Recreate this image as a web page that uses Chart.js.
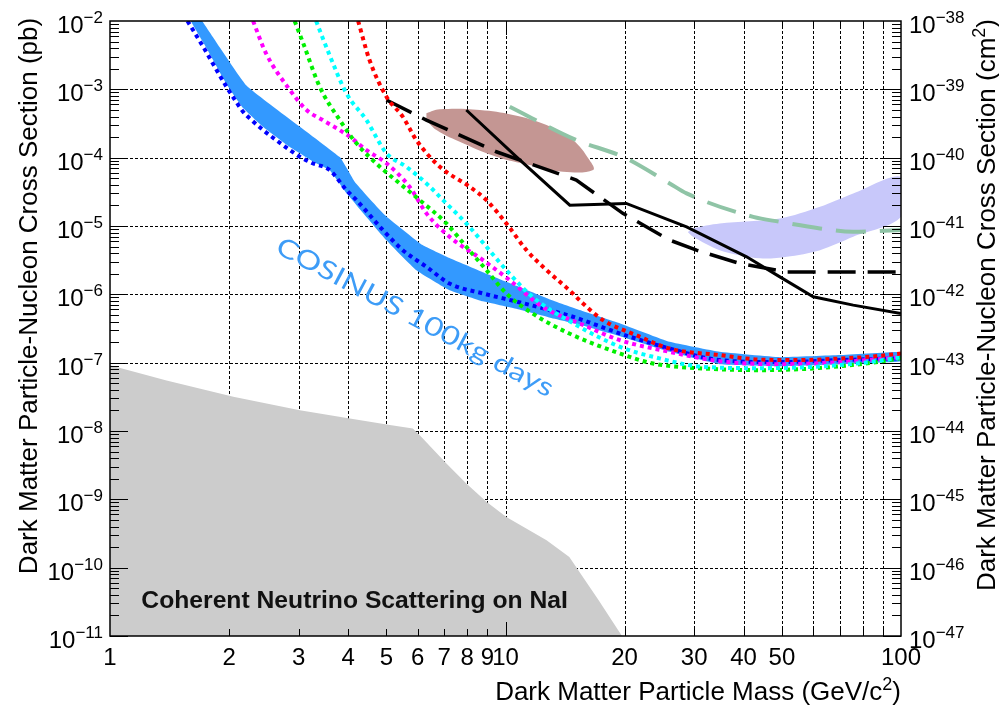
<!DOCTYPE html>
<html>
<head>
<meta charset="utf-8">
<script src="https://cdn.jsdelivr.net/npm/chart.js@4.4.0/dist/chart.umd.min.js"></script>
<style>
  html, body { margin: 0; padding: 0; background: #fff; }
  #wrap { width: 999px; height: 714px; position: relative; }
</style>
</head>
<body>
<div id="wrap"><canvas id="limits"></canvas></div>
<script>
// WIMP mass in GeV/c^2, cross section in pb

// axis ticks
const massTicks = [1, 2, 3, 4, 5, 6, 7, 8, 9, 10, 20, 30, 40, 50, 60, 70, 80, 90, 100];
const massTickLabels = ['1', '2', '3', '4', '5', '6', '7', '8', '9', '10', '20', '30', '40', '50', '', '', '', '', '100'];
const pbExponents = [-11, -10, -9, -8, -7, -6, -5, -4, -3, -2];
const cm2Offset = -36; // 1 pb = 1e-36 cm^2

// COSINUS 100 kg day band (upper edge left->right, then lower edge right->left)
const bandMass = [1.71, 2.22, 3.81, 4.16, 4.95, 6.17, 7.22, 8.76, 10.7, 12.9, 15.4, 19.5, 26.0, 34.8, 49.4, 70.0, 100,
  100, 70.0, 49.4, 34.8, 26.0, 19.5, 15.4, 12.9, 10.7, 8.77, 7.22, 5.95, 5.0, 4.20, 3.96, 3.59, 3.25, 2.85, 2.44, 2.17, 1.97, 1.73, 1.60];
const bandSigma = [1e-2, 1.12e-3, 1.02e-4, 4.4e-5, 1.45e-5, 5.25e-6, 3.39e-6, 2.11e-6, 1.32e-6, 8.5e-7, 5.9e-7, 3.75e-7, 2.02e-7, 1.44e-7, 1.2e-7, 1.29e-7, 1.43e-7,
  1.05e-7, 9.5e-8, 8.9e-8, 9.5e-8, 1.44e-7, 2.44e-7, 3.6e-7, 4.6e-7, 6.1e-7, 7.9e-7, 1.15e-6, 2.26e-6, 6.2e-6, 2.02e-5, 3.03e-5, 6.58e-5, 8.9e-5, 1.43e-4, 2.81e-4, 5.32e-4, 1.2e-3, 4.6e-3, 1e-2];

// dotted sensitivity curves
const blueMass = [1.57, 1.72, 1.97, 2.07, 2.17, 2.28, 2.44, 2.63, 2.85, 3.02, 3.25, 3.59, 3.96, 4.20, 4.90, 5.50, 6.31, 7.22, 8.77, 10.7, 12.9, 14.8, 19.5, 26.0, 34.8, 49.4, 70.0, 100];
const blueSigma = [1e-2, 4.2e-3, 1.09e-3, 7.0e-4, 4.7e-4, 3.55e-4, 2.53e-4, 1.81e-4, 1.29e-4, 1.03e-4, 8.3e-5, 6.6e-5, 3.36e-5, 2.39e-5, 8.7e-6, 4.43e-6, 2.53e-6, 1.44e-6, 1.03e-6, 7.8e-7, 5.9e-7, 4.7e-7, 2.67e-7, 1.61e-7, 1.09e-7, 1.02e-7, 1.09e-7, 1.16e-7];

const magentaMass = [2.30, 2.48, 2.85, 3.14, 3.45, 4.04, 4.45, 5.0, 5.72, 6.31, 7.22, 8.77, 10.25, 12.4, 15.4, 19.5, 26.0, 34.8, 49.4, 70.0, 100];
const magentaSigma = [1e-2, 3.37e-3, 9.77e-4, 4.98e-4, 3.55e-4, 2.02e-4, 1.29e-4, 8.26e-5, 3.75e-5, 1.53e-5, 6.95e-6, 3.17e-6, 1.61e-6, 6.56e-7, 3.75e-7, 2.13e-7, 1.44e-7, 1.05e-7, 9.5e-8, 1.02e-7, 1.2e-7];

const greenMass = [2.93, 3.08, 3.39, 3.81, 4.20, 4.81, 5.40, 6.07, 7.09, 7.96, 8.95, 10.05, 11.7, 14.5, 19.5, 23.6, 31.6, 44.0, 60.0, 83.4, 100];
const greenSigma = [1e-2, 4.72e-3, 1.09e-3, 3.55e-4, 1.62e-4, 7.37e-5, 4.2e-5, 2.39e-5, 1.09e-5, 4.96e-6, 2.26e-6, 1.03e-6, 5.25e-7, 2.67e-7, 1.36e-7, 9.73e-8, 8.23e-8, 7.77e-8, 8.23e-8, 9.9e-8, 1.16e-7];

const cyanMass = [3.32, 3.59, 3.96, 4.45, 5.0, 5.61, 6.31, 6.95, 7.96, 8.95, 10.05, 11.7, 14.5, 19.5, 23.6, 31.6, 44.0, 60.0, 83.4, 100];
const cyanSigma = [1e-2, 3.18e-3, 8.74e-4, 3.55e-4, 1.16e-4, 7.37e-5, 4.2e-5, 2.39e-5, 1.09e-5, 4.96e-6, 2.26e-6, 9.19e-7, 4.06e-7, 1.7e-7, 1.22e-7, 8.69e-8, 8.31e-8, 8.69e-8, 1.02e-7, 1.2e-7];

const redMass = [4.24, 4.53, 5.0, 5.50, 5.95, 6.82, 8.12, 8.95, 10.05, 11.3, 12.7, 14.5, 15.7, 17.65, 21.4, 26.0, 34.8, 44.0, 55.5, 70.0, 83.4, 100];
const redSigma = [1e-2, 2.69e-3, 7.8e-4, 3.97e-4, 1.81e-4, 7.37e-5, 3.75e-5, 2.39e-5, 1.09e-5, 4.43e-6, 2.26e-6, 1.15e-6, 7.36e-7, 4.19e-7, 2.53e-7, 1.61e-7, 1.29e-7, 1.11e-7, 1.09e-7, 1.15e-7, 1.22e-7, 1.36e-7];

// existing experimental limits
const solidMass = [7.96, 10.66, 14.54, 20.2, 28.7, 40.7, 49.4, 60.0, 75.7, 100];
const solidSigma = [4.98e-4, 1.03e-4, 2.02e-5, 2.14e-5, 9.73e-6, 3.54e-6, 1.8e-6, 9.19e-7, 6.95e-7, 5.25e-7];

const dashedMass = [5.0, 6.31, 9.48, 15.1, 19.8, 26.0, 30.4, 39.1, 51.4, 100];
const dashedSigma = [6.97e-4, 3.55e-4, 1.22e-4, 4.7e-5, 1.53e-5, 6.22e-6, 4.43e-6, 2.83e-6, 2.13e-6, 2.13e-6];

const sageMass = [10.25, 15.1, 19.8, 26.0, 28.7, 42.3, 49.4, 62.4, 75.7, 100];
const sageSigma = [5.56e-4, 1.81e-4, 1.03e-4, 4.2e-5, 3.0e-5, 1.36e-5, 1.15e-5, 9.22e-6, 8.23e-6, 8.71e-6];

// closed regions
const blobMass = [6.31, 6.82, 8.61, 10.45, 12.7, 14.8, 16.3, 16.65, 13.98, 11.5, 9.48, 7.81, 6.69, 6.31];
const blobSigma = [4.45e-4, 5.09e-4, 4.98e-4, 4.21e-4, 3.0e-4, 1.81e-4, 9.23e-5, 6.58e-5, 6.22e-5, 7.8e-5, 1.03e-4, 1.62e-4, 2.53e-4, 3.55e-4];

const lilacMass = [28.9, 29.8, 34.8, 49.4, 62.4, 75.7, 100, 100, 75.7, 62.4, 51.4, 44.0, 34.8, 29.8, 28.9];
const lilacSigma = [8.15e-6, 9.22e-6, 1.09e-5, 1.29e-5, 1.91e-5, 3.0e-5, 5.25e-5, 1.36e-5, 6.95e-6, 4.43e-6, 3.54e-6, 3.36e-6, 4.43e-6, 6.95e-6, 8.15e-6];

const floorMass = [1.0, 1.39, 2.05, 3.02, 4.04, 5.10, 5.83, 6.07, 7.09, 7.96, 8.95, 10.05, 12.7, 14.5, 17.2, 19.7];
const floorSigma = [9.2e-8, 5.5e-8, 3.16e-8, 2.02e-8, 1.52e-8, 1.22e-8, 1.09e-8, 8.7e-9, 3.34e-9, 1.7e-9, 9.2e-10, 5.5e-10, 2.52e-10, 1.43e-10, 3.33e-11, 1e-11];

const FONT = '"Liberation Sans", Arial, Helvetica, sans-serif';

function pts(ms, ss) {
  return ms.map((m, i) => ({x: m, y: ss[i]}));
}

function dotted(label, ms, ss, color) {
  return {
    label: label, data: pts(ms, ss), showLine: true, pointRadius: 0,
    borderColor: color, borderWidth: 4, borderDash: [4, 4], borderCapStyle: 'butt',
    cubicInterpolationMode: 'monotone', fill: false
  };
}

function powLabel(ctx, exp, px, py, align) {
  const base = '10';
  const sup = '\u2212' + Math.abs(exp);
  ctx.font = '24px ' + FONT;
  const bw = ctx.measureText(base).width;
  ctx.font = '17px ' + FONT;
  const sw = ctx.measureText(sup).width;
  const left = align === 'right' ? px - bw - sw : px;
  ctx.textAlign = 'left';
  ctx.font = '24px ' + FONT;
  ctx.fillText(base, left, py);
  ctx.font = '17px ' + FONT;
  ctx.fillText(sup, left + bw, py - 10);
}

// title with a superscript 2 before the closing bracket
function supTitle(ctx, head, tail, px, py, align) {
  ctx.font = '26px ' + FONT;
  const hw = ctx.measureText(head).width;
  const tw = ctx.measureText(tail).width;
  ctx.font = '18px ' + FONT;
  const sw = ctx.measureText('2').width;
  const total = hw + sw + tw;
  let left = px;
  if (align === 'right') left = px - total;
  if (align === 'center') left = px - total / 2;
  ctx.textAlign = 'left';
  ctx.font = '26px ' + FONT;
  ctx.fillText(head, left, py);
  ctx.fillText(tail, left + hw + sw, py);
  ctx.font = '18px ' + FONT;
  ctx.fillText('2', left + hw, py - 10);
}

const rootAxes = {
  id: 'rootAxes',
  beforeDatasetsDraw(chart) {
    const {ctx, chartArea: a, scales: {x, y}} = chart;
    ctx.save();
    ctx.strokeStyle = '#000';
    ctx.lineWidth = 1;
    ctx.setLineDash([3, 2]);
    ctx.beginPath();
    massTicks.slice(1, -1).forEach((m) => {
      const px = Math.round(x.getPixelForValue(m)) + 0.5;
      ctx.moveTo(px, a.top);
      ctx.lineTo(px, a.bottom);
    });
    pbExponents.slice(1, -1).forEach((e) => {
      const py = Math.round(y.getPixelForValue(Math.pow(10, e))) + 0.5;
      ctx.moveTo(a.left, py);
      ctx.lineTo(a.right, py);
    });
    ctx.stroke();
    ctx.restore();
  },
  afterDatasetsDraw(chart) {
    const {ctx, chartArea: a, scales: {x, y, y2}} = chart;
    ctx.save();
    ctx.strokeStyle = '#000';
    ctx.fillStyle = '#000';
    ctx.lineWidth = 1;
    ctx.setLineDash([]);

    // ticks on all four sides, pointing inwards
    ctx.beginPath();
    pbExponents.slice(0, -1).forEach((e) => {
      for (let j = 1; j <= 9; j++) {
        const py = Math.round(y.getPixelForValue(j * Math.pow(10, e))) + 0.5;
        const len = j === 1 ? 18 : 9;
        ctx.moveTo(a.left, py); ctx.lineTo(a.left + len, py);
        ctx.moveTo(a.right, py); ctx.lineTo(a.right - len, py);
      }
    });
    massTicks.slice(1, -1).forEach((m) => {
      const px = Math.round(x.getPixelForValue(m)) + 0.5;
      const len = m === 10 ? 14 : 7;
      ctx.moveTo(px, a.bottom); ctx.lineTo(px, a.bottom - len);
      ctx.moveTo(px, a.top); ctx.lineTo(px, a.top + len);
    });
    ctx.stroke();

    ctx.lineWidth = 1.5;
    ctx.strokeRect(a.left, a.top, a.right - a.left, a.bottom - a.top);

    // tick labels
    ctx.textBaseline = 'alphabetic';
    ctx.font = '24px ' + FONT;
    ctx.textAlign = 'center';
    massTicks.forEach((m, i) => {
      if (massTickLabels[i]) ctx.fillText(massTickLabels[i], x.getPixelForValue(m), a.bottom + 29);
    });
    pbExponents.forEach((e) => {
      const py = y.getPixelForValue(Math.pow(10, e));
      powLabel(ctx, e, a.left - 7, py + 12, 'right');
    });
    pbExponents.forEach((e) => {
      const py = y2.getPixelForValue(Math.pow(10, e + cm2Offset));
      powLabel(ctx, e + cm2Offset, a.right + 8, py + 12, 'left');
    });

    // axis titles
    supTitle(ctx, 'Dark Matter Particle Mass (GeV/c', ')', a.right, 700, 'right');
    ctx.save();
    ctx.translate(37, 296);
    ctx.rotate(-Math.PI / 2);
    ctx.font = '26px ' + FONT;
    ctx.textAlign = 'center';
    ctx.fillText('Dark Matter Particle-Nucleon Cross Section (pb)', 0, 0);
    ctx.restore();
    ctx.save();
    ctx.translate(995, 305);
    ctx.rotate(-Math.PI / 2);
    supTitle(ctx, 'Dark Matter Particle-Nucleon Cross Section (cm', ')', 0, 0, 'center');
    ctx.restore();

    // in-plot labels
    ctx.fillStyle = '#111';
    ctx.font = 'bold 24.7px ' + FONT;
    ctx.textAlign = 'left';
    ctx.fillText('Coherent Neutrino Scattering on NaI', x.getPixelForValue(1.2), y.getPixelForValue(2.55e-11));

    ctx.save();
    ctx.translate(x.getPixelForValue(5.9), y.getPixelForValue(4.6e-7));
    ctx.rotate(28 * Math.PI / 180);
    ctx.font = '26px "Lato", "Noto Sans", sans-serif';
    const txt = 'COSINUS 100kg days';
    const w = ctx.measureText(txt).width;
    ctx.scale(310 / w, 1);
    ctx.fillStyle = '#3d9cf7';
    ctx.textAlign = 'center';
    ctx.textBaseline = 'middle';
    ctx.fillText(txt, 0, 0);
    ctx.restore();

    ctx.restore();
  }
};

const datasets = [
  dotted('red', redMass, redSigma, '#ff0000'),
  dotted('cyan', cyanMass, cyanSigma, '#00ffff'),
  dotted('green', greenMass, greenSigma, '#00f000'),
  dotted('magenta', magentaMass, magentaSigma, '#ff00ff'),
  dotted('blue', blueMass, blueSigma, '#0000ff'),
  {
    label: 'solid limit', data: pts(solidMass, solidSigma), showLine: true, pointRadius: 0,
    borderColor: '#000', borderWidth: 3, tension: 0, fill: false
  },
  {
    label: 'dashed limit', data: pts(dashedMass, dashedSigma), showLine: true, pointRadius: 0,
    borderColor: '#000', borderWidth: 3.5, borderDash: [28, 12], tension: 0, fill: false
  },
  {
    label: 'sage limit', data: pts(sageMass, sageSigma), showLine: true, pointRadius: 0,
    borderColor: '#8fc4a6', borderWidth: 4, borderDash: [30, 14], cubicInterpolationMode: 'monotone', fill: false
  },
  {
    label: 'COSINUS band', data: pts(bandMass, bandSigma), showLine: true, pointRadius: 0,
    borderColor: 'rgba(0,0,0,0)', borderWidth: 0, backgroundColor: '#3399ff', tension: 0.1, fill: 'shape'
  },
  {
    label: 'DAMA region', data: pts(blobMass, blobSigma), showLine: true, pointRadius: 0,
    borderColor: 'rgba(0,0,0,0)', borderWidth: 0, backgroundColor: '#c49693', tension: 0.4, fill: 'shape'
  },
  {
    label: 'lilac region', data: pts(lilacMass, lilacSigma), showLine: true, pointRadius: 0,
    borderColor: 'rgba(0,0,0,0)', borderWidth: 0, backgroundColor: '#c8c8fa', tension: 0.3, fill: 'shape'
  },
  {
    label: 'neutrino floor', data: pts(floorMass, floorSigma), showLine: true, pointRadius: 0,
    borderColor: 'rgba(0,0,0,0)', borderWidth: 0, backgroundColor: '#cccccc', tension: 0, fill: 'start'
  }
];

new Chart(document.getElementById('limits'), {
  type: 'scatter',
  data: {datasets: datasets},
  options: {
    responsive: true,
    maintainAspectRatio: false,
    animation: false,
    layout: {padding: {left: 110, top: 21, right: 98, bottom: 78}},
    plugins: {legend: {display: false}, tooltip: {enabled: false}},
    events: [],
    scales: {
      x: {type: 'logarithmic', min: 1, max: 100, display: false},
      y: {type: 'logarithmic', min: 1e-11, max: 1e-2, display: false},
      y2: {type: 'logarithmic', min: 1e-47, max: 1e-38, display: false, position: 'right'}
    }
  },
  plugins: [rootAxes]
});
</script>
</body>
</html>
